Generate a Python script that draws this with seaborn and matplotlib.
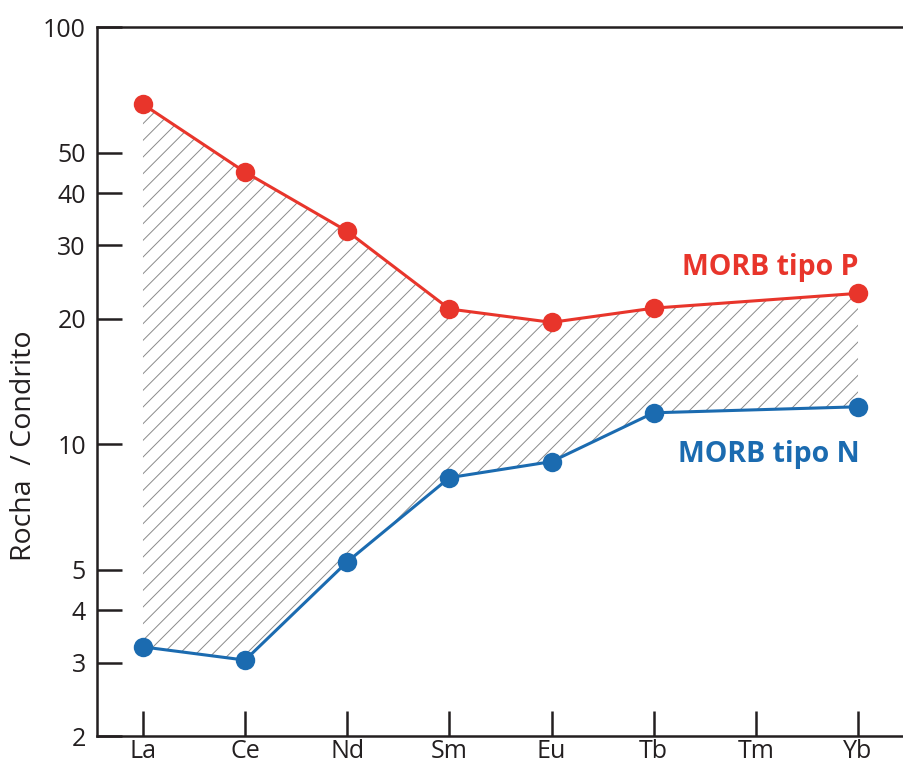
import matplotlib
matplotlib.use("Agg")
import matplotlib.pyplot as plt
import pandas as pd
import seaborn as sns
from matplotlib.ticker import FixedLocator, FixedFormatter, NullLocator

# elementos terras raras (Tm sem dados)
elements = ["La", "Ce", "Nd", "Sm", "Eu", "Tb", "Tm", "Yb"]
morb_p = [65.3, 44.9, 32.4, 21.1, 19.6, 21.2, None, 23.0]
morb_n = [3.27, 3.04, 5.23, 8.32, 9.09, 11.9, None, 12.3]
y_ticks = [2, 3, 4, 5, 10, 20, 30, 40, 50, 100]

red = "#E8352B"
blue = "#1B6BB0"
dark = "#231F20"

rows = []
for i, el in enumerate(elements):
    if morb_p[i] is not None:
        rows.append({"pos": i, "el": el, "valor": morb_p[i], "tipo": "P"})
        rows.append({"pos": i, "el": el, "valor": morb_n[i], "tipo": "N"})
df = pd.DataFrame(rows)

sns.set_theme(style="ticks")
plt.rcParams["font.family"] = ["Open Sans", "DejaVu Sans"]
plt.rcParams["hatch.linewidth"] = 0.7

fig = plt.figure(figsize=(9.04, 7.65), dpi=100)
ax = fig.add_axes([0.1073, 0.0379, 0.8927, 0.9268])
ax.set_yscale("log")

# área hachurada entre as duas curvas
p_df = df[df["tipo"] == "P"]
n_df = df[df["tipo"] == "N"]
ax.fill_between(p_df["pos"].values, n_df["valor"].values, p_df["valor"].values,
                facecolor="white", edgecolor="#8a8a8a", hatch="//", linewidth=0,
                zorder=1)

sns.lineplot(data=df, x="pos", y="valor", hue="tipo", palette={"P": red, "N": blue},
             marker="o", markersize=14, markeredgewidth=0, linewidth=2.2,
             legend=False, ax=ax, zorder=3)

ax.set_xlim(-0.45, 7.45)
ax.set_ylim(2, 100)
ax.set_xticks(range(len(elements)))
ax.set_xticklabels(elements)
ax.yaxis.set_major_locator(FixedLocator(y_ticks))
ax.yaxis.set_major_formatter(FixedFormatter([str(t) for t in y_ticks]))
ax.yaxis.set_minor_locator(NullLocator())

ax.tick_params(axis="both", direction="in", length=18, width=1.8, color=dark,
               labelsize=18, labelcolor=dark)
ax.tick_params(axis="y", pad=8)
ax.tick_params(axis="x", pad=2)

for side in ["left", "top", "bottom"]:
    ax.spines[side].set_linewidth(1.8)
    ax.spines[side].set_color(dark)
ax.spines["right"].set_visible(False)

ax.set_xlabel("")
ax.set_ylabel("Rocha  / Condrito", fontsize=20.5, color=dark)
ax.yaxis.set_label_coords(-0.073, 0.41)

ax.text(7.0, 26.5, "MORB tipo P", color=red, fontsize=20.5, fontweight="bold",
        ha="right", va="center")
ax.text(7.02, 9.45, "MORB tipo N", color=blue, fontsize=20.5, fontweight="bold",
        ha="right", va="center")

fig.savefig("out.png", dpi=100)
